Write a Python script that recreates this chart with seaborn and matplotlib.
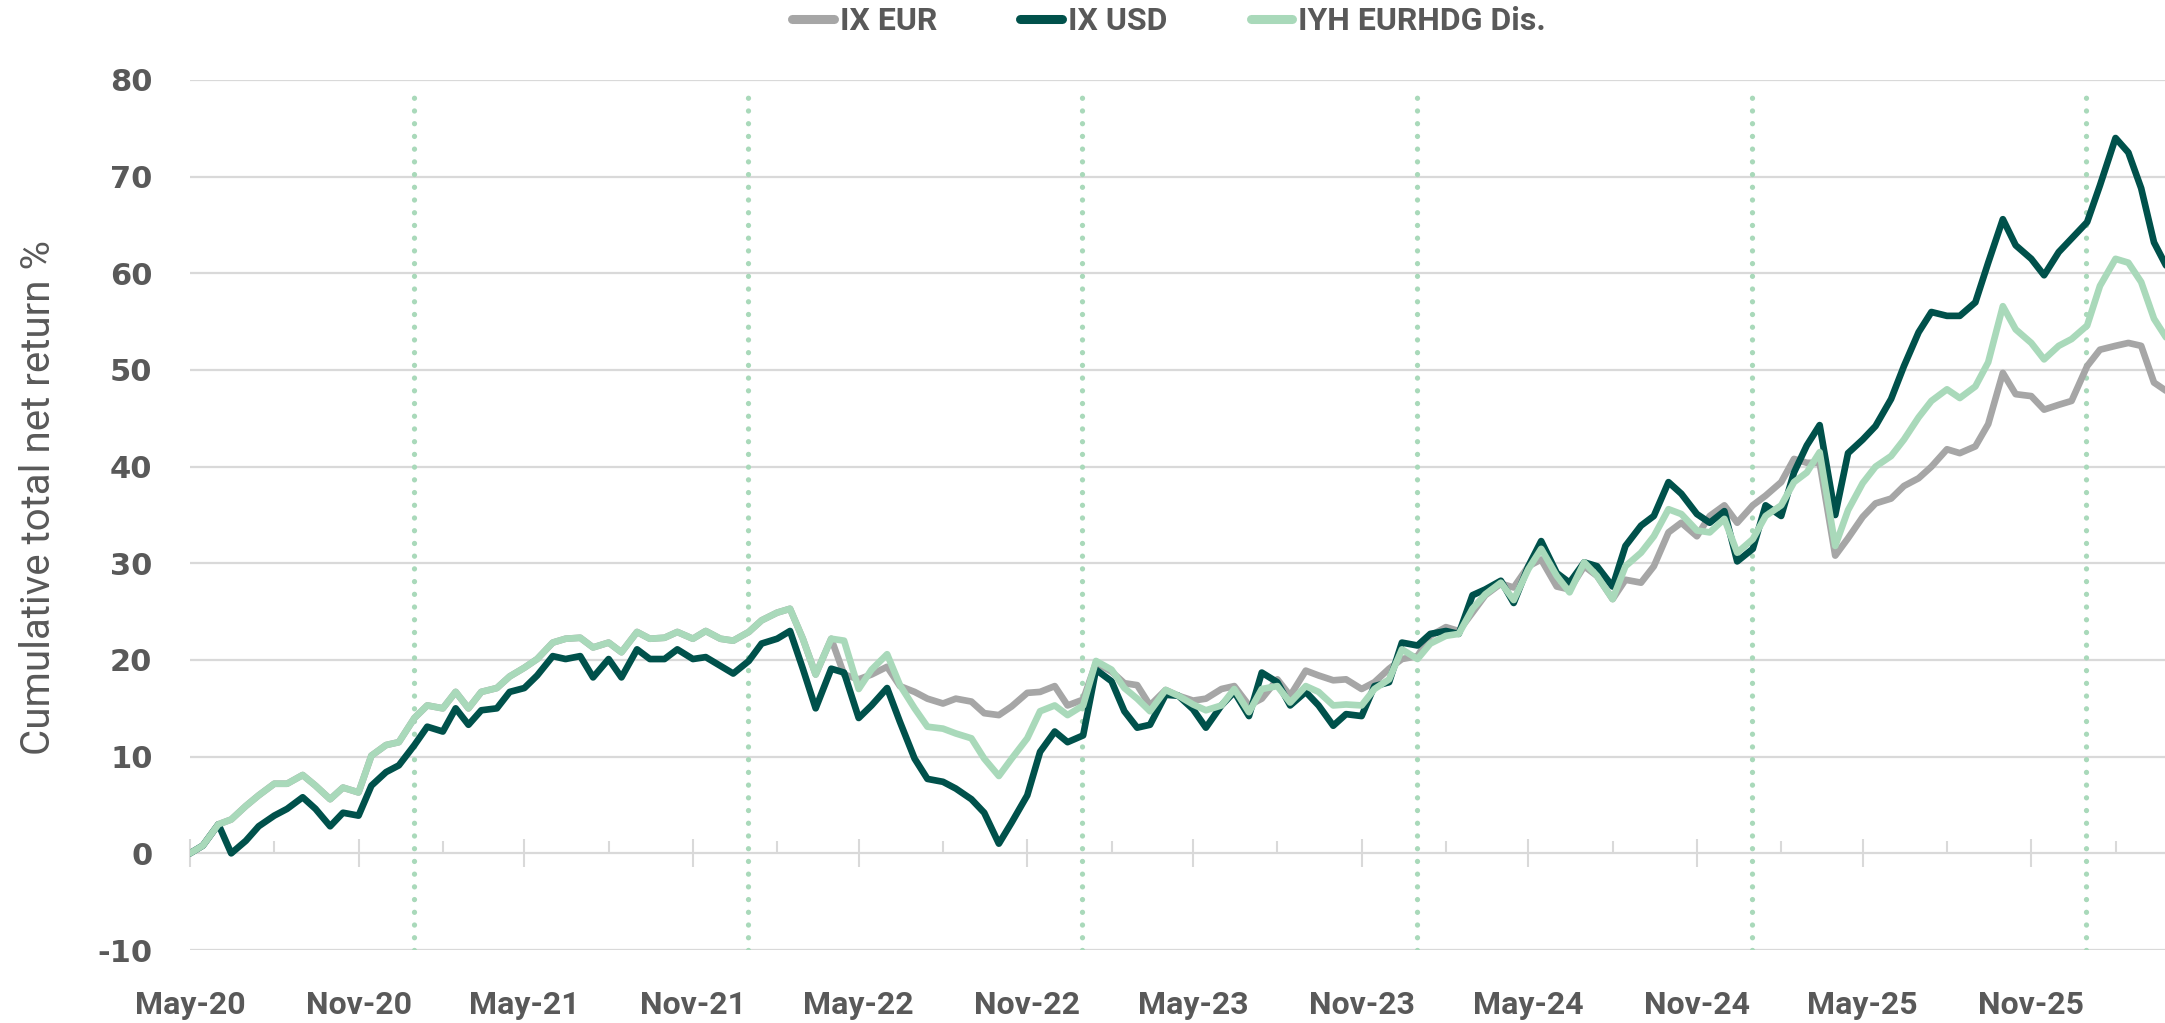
import numpy as np
import pandas as pd
import matplotlib
matplotlib.use("Agg")
import matplotlib.pyplot as plt
import matplotlib.dates as mdates
from matplotlib.lines import Line2D
from matplotlib.ticker import FixedLocator, NullFormatter
import seaborn as sns

# semi-monthly observation dates (1st and 15th), May 2020 -> Apr 2026
dates = pd.date_range("2020-05-01", periods=143, freq="SMS")

ix_eur = [
    0.0, 0.8, 3.0, 3.5, 4.9, 6.0, 7.2, 7.2, 8.1, 7.0,
    5.6, 6.8, 6.3, 10.1, 11.2, 11.5, 14.0, 15.3, 15.0, 16.7,
    15.0, 16.7, 17.1, 18.3, 19.2, 20.1, 21.8, 22.2, 22.3, 21.3,
    21.8, 20.8, 22.9, 22.2, 22.3, 22.9, 22.2, 23.0, 22.2, 22.0,
    22.9, 24.1, 24.9, 25.3, 22.2, 18.5, 22.2, 18.5, 18.0, 18.5,
    19.3, 17.3, 16.7, 16.0, 15.5, 16.0, 15.7, 14.5, 14.3, 15.2,
    16.6, 16.7, 17.3, 15.3, 15.9, 19.7, 18.8, 17.6, 17.4, 15.3,
    16.9, 16.3, 15.8, 16.0, 17.0, 17.3, 15.3, 16.0, 18.0, 16.3,
    18.9, 18.4, 17.9, 18.0, 17.0, 17.7, 19.1, 20.1, 20.4, 22.5,
    23.4, 23.0, 24.9, 26.7, 27.9, 27.5, 29.7, 30.4, 27.6, 27.3,
    29.7, 28.7, 26.3, 28.3, 28.0, 29.7, 33.2, 34.2, 32.8, 34.9,
    36.0, 34.2, 36.0, 37.0, 38.4, 40.8, 40.4, 40.4, 30.8, 32.6,
    34.8, 36.2, 36.7, 38.0, 38.8, 40.0, 41.8, 41.4, 42.1, 44.4,
    49.7, 47.5, 47.3, 45.9, 46.4, 46.8, 50.4, 52.1, 52.5, 52.8,
    52.5, 48.7, 47.6,
]

ix_usd = [
    0.0, 0.8, 3.0, 0.0, 1.3, 2.8, 3.9, 4.6, 5.8, 4.6,
    2.8, 4.2, 3.9, 7.0, 8.4, 9.1, 11.2, 13.1, 12.6, 15.0,
    13.3, 14.8, 15.0, 16.7, 17.1, 18.4, 20.4, 20.1, 20.4, 18.2,
    20.1, 18.2, 21.1, 20.1, 20.1, 21.1, 20.1, 20.3, 19.4, 18.6,
    19.9, 21.7, 22.2, 23.0, 19.1, 15.0, 19.1, 18.7, 14.0, 15.3,
    17.1, 13.6, 9.8, 7.7, 7.4, 6.7, 5.6, 4.2, 1.0, 3.2,
    6.0, 10.5, 12.6, 11.5, 12.2, 19.0, 17.8, 14.7, 13.0, 13.3,
    16.4, 16.3, 14.9, 13.0, 15.3, 16.7, 14.2, 18.7, 17.7, 15.3,
    16.7, 15.3, 13.2, 14.4, 14.2, 17.3, 17.7, 21.8, 21.5, 22.7,
    23.0, 22.7, 26.7, 27.3, 28.2, 25.9, 29.7, 32.3, 29.0, 28.0,
    30.1, 29.7, 27.6, 31.8, 33.9, 34.9, 38.4, 37.2, 35.1, 34.2,
    35.4, 30.2, 31.5, 36.0, 34.9, 39.4, 42.2, 44.3, 35.0, 41.4,
    42.8, 44.2, 47.0, 50.4, 53.9, 56.0, 55.6, 55.6, 57.0, 61.1,
    65.6, 62.9, 61.5, 59.8, 62.2, 63.6, 65.3, 69.1, 74.0, 72.5,
    68.8, 63.2, 60.1,
]

iyh_eurhdg = [
    0.0, 0.8, 3.0, 3.5, 4.9, 6.0, 7.2, 7.2, 8.1, 7.0,
    5.6, 6.8, 6.3, 10.1, 11.2, 11.5, 14.0, 15.3, 15.0, 16.7,
    15.0, 16.7, 17.1, 18.3, 19.2, 20.1, 21.8, 22.2, 22.3, 21.3,
    21.8, 20.8, 22.9, 22.2, 22.3, 22.9, 22.2, 23.0, 22.2, 22.0,
    22.9, 24.1, 24.9, 25.3, 22.2, 18.5, 22.2, 22.0, 17.0, 19.0,
    20.6, 17.4, 15.0, 13.1, 12.9, 12.4, 11.9, 9.8, 8.0, 9.8,
    11.9, 14.7, 15.3, 14.3, 15.3, 19.9, 19.0, 17.1, 16.0, 14.7,
    16.9, 16.3, 15.4, 14.8, 15.3, 17.0, 14.6, 17.0, 17.3, 15.6,
    17.3, 16.7, 15.3, 15.4, 15.3, 17.0, 18.0, 21.1, 20.1, 21.7,
    22.5, 22.7, 25.3, 26.8, 28.0, 26.2, 29.4, 31.5, 28.7, 27.0,
    30.1, 28.7, 26.3, 29.7, 31.1, 32.8, 35.6, 35.1, 33.4, 33.2,
    34.6, 31.1, 32.5, 34.9, 36.0, 38.4, 39.4, 41.5, 31.8, 35.5,
    38.3, 40.0, 41.1, 42.8, 45.1, 46.8, 48.0, 47.1, 48.3, 50.8,
    56.6, 54.2, 52.8, 51.1, 52.5, 53.2, 54.6, 58.7, 61.5, 61.1,
    59.1, 55.3, 52.8,
]

series_names = ["IX EUR", "IX USD", "IYH EURHDG Dis."]
series_colors = ["#A6A6A6", "#00514B", "#A9D9BA"]
year_ends = pd.to_datetime(["2020-12-31", "2021-12-31", "2022-12-31",
                            "2023-12-31", "2024-12-31", "2025-12-31"])
major_ticks = pd.date_range("2020-05-01", "2025-11-01", freq="6MS")
minor_ticks = pd.date_range("2020-08-01", "2026-02-01", freq="6MS")
y_ticks = list(range(-10, 81, 10))
x_start, x_end = pd.Timestamp("2020-05-01"), pd.Timestamp("2026-03-27")

text_color = "#595959"
grid_color = "#D9D9D9"

df = pd.DataFrame({
    "date": np.tile(dates, 3),
    "value": ix_eur + ix_usd + iyh_eurhdg,
    "series": np.repeat(series_names, len(dates)),
})

sns.set_style("white")
plt.rcParams["font.family"] = ["Roboto", "DejaVu Sans"]

fig = plt.figure(figsize=(21.65, 10.23), dpi=100)
ax = fig.add_axes([190 / 2165, 1 - 950 / 1023, 1 - 190 / 2165, 870 / 1023])

# year-end markers
ax.vlines(year_ends, -10, 79, colors=series_colors[2], linestyles=(0, (0.01, 2.4)),
          linewidth=3.8, capstyle="round", zorder=1)

sns.lineplot(data=df, x="date", y="value", hue="series", hue_order=series_names,
             palette=series_colors, linewidth=4.8, estimator=None, sort=False,
             ax=ax, zorder=3)
for ln in ax.lines:
    ln.set_solid_joinstyle("round")
    ln.set_solid_capstyle("round")
ax.get_legend().remove()

ax.set_xlim(x_start, x_end)
ax.set_ylim(-10, 80)
ax.set_yticks(y_ticks)
ax.set_yticklabels([str(v) for v in y_ticks], fontfamily="DejaVu Sans", fontsize=22)
ax.yaxis.grid(True, color=grid_color, linewidth=1.6, zorder=0)
ax.xaxis.grid(False)
ax.set_axisbelow(True)
for s in ax.spines.values():
    s.set_visible(False)

ax.set_xticks(major_ticks)
ax.set_xticklabels([d.strftime("%b-%y") for d in major_ticks], fontsize=23)
ax.tick_params(axis="both", length=0, colors=text_color)
ax.tick_params(axis="x", pad=29)
ax.tick_params(axis="y", pad=27)
for lab in ax.get_xticklabels() + ax.get_yticklabels():
    lab.set_fontweight("bold")

ax.set_xlabel("")
ax.set_ylabel("Cumulative total net return %", fontsize=29, color=text_color)
ax.yaxis.set_label_coords(-0.067, 0.52)

# tick marks sitting on the zero line
sec = ax.secondary_xaxis(10 / 90)
sec.xaxis.set_major_locator(FixedLocator(mdates.date2num(major_ticks)))
sec.xaxis.set_minor_locator(FixedLocator(mdates.date2num(minor_ticks)))
sec.xaxis.set_major_formatter(NullFormatter())
sec.xaxis.set_minor_formatter(NullFormatter())
sec.tick_params(which="major", direction="inout", length=20, width=1.5, color=grid_color)
sec.tick_params(which="minor", direction="in", length=9, width=1.5, color=grid_color)
for s in sec.spines.values():
    s.set_visible(False)

handles = [Line2D([0], [0], color=c, linewidth=6.5, solid_capstyle="round") for c in series_colors]
fig.legend(handles, series_names, loc="center", bbox_to_anchor=(0.54, 0.979), ncol=3,
           frameon=False, handlelength=1.3, handletextpad=0.2, columnspacing=2.6,
           prop={"family": ["Roboto", "DejaVu Sans"], "weight": "bold", "size": 23},
           labelcolor=text_color)

fig.savefig("out.png", dpi=100)
